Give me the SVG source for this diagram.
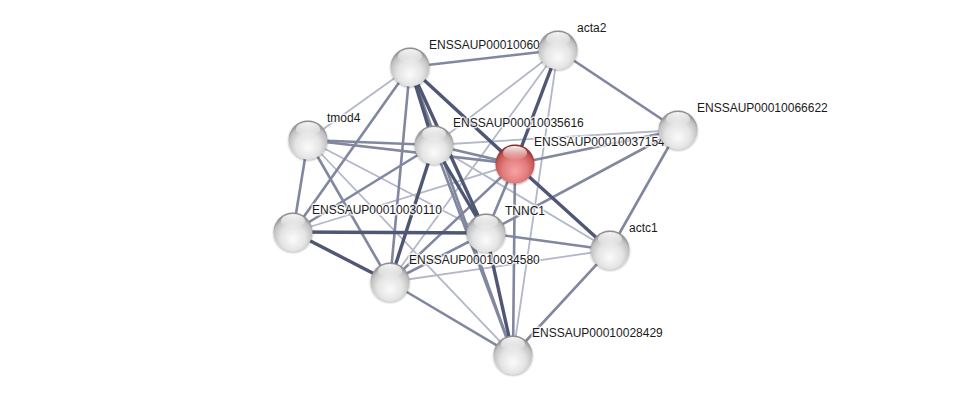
<svg xmlns="http://www.w3.org/2000/svg" width="976" height="400" viewBox="0 0 976 400">
<defs>
<radialGradient id="gw" cx="50%" cy="62%" r="58%" fx="50%" fy="70%">
<stop offset="0" stop-color="#fbfbfb"/>
<stop offset="0.55" stop-color="#e4e4e4"/>
<stop offset="0.85" stop-color="#c2c2c2"/>
<stop offset="1" stop-color="#8e8e8e"/>
</radialGradient>
<radialGradient id="gr" cx="50%" cy="62%" r="58%" fx="50%" fy="70%">
<stop offset="0" stop-color="#f7a4a4"/>
<stop offset="0.55" stop-color="#e37c7c"/>
<stop offset="0.85" stop-color="#c45555"/>
<stop offset="1" stop-color="#8e2c2c"/>
</radialGradient>
<linearGradient id="hl" x1="0" y1="0" x2="0" y2="1">
<stop offset="0" stop-color="#fff" stop-opacity="0.95"/>
<stop offset="1" stop-color="#fff" stop-opacity="0"/>
</linearGradient>
<filter id="sh" x="-30%" y="-30%" width="160%" height="160%">
<feGaussianBlur in="SourceAlpha" stdDeviation="1.2"/>
<feOffset dx="0" dy="1.2" result="b"/>
<feComponentTransfer><feFuncA type="linear" slope="0.35"/></feComponentTransfer>
<feMerge><feMergeNode/><feMergeNode in="SourceGraphic"/></feMerge>
</filter>
</defs>
<style>
.e{fill:none;stroke-linecap:butt}
.l{stroke:#b3b8c8;stroke-width:1.8}
.m{stroke:#80879f;stroke-width:2.6}
.d{stroke:#4f5774;stroke-width:3.4}
.n{fill:url(#gw);filter:url(#sh)}
.r{fill:url(#gr);filter:url(#sh)}
.h{fill:url(#hl)}
text{font-family:"Liberation Sans",Arial,sans-serif;font-size:12px;fill:#1a1a1a;paint-order:stroke;stroke:#fff;stroke-width:3px;stroke-opacity:0.75;stroke-linejoin:round}
</style>
<rect width="976" height="400" fill="#fff"/>
<g id="connectors">
<line class="e l" x1="410" y1="67" x2="308" y2="140"/>
<line class="e l" x1="558" y1="50" x2="434" y2="145"/>
<line class="e l" x1="558" y1="50" x2="390" y2="282"/>
<line class="e l" x1="558" y1="50" x2="513" y2="355"/>
<line class="e l" x1="308" y1="140" x2="513" y2="355"/>
<line class="e l" x1="434" y1="145" x2="678" y2="130"/>
<line class="e l" x1="515" y1="164" x2="293" y2="232"/>
<line class="e l" x1="610" y1="250" x2="390" y2="282"/>
<line class="e l" x1="434" y1="145" x2="610" y2="250"/>
<line class="e l" x1="308" y1="140" x2="486" y2="233"/>
<line class="e m" x1="410" y1="67" x2="558" y2="50"/>
<line class="e m" x1="410" y1="67" x2="293" y2="232"/>
<line class="e m" x1="410" y1="67" x2="390" y2="282"/>
<line class="e m" x1="410" y1="67" x2="513" y2="355"/>
<line class="e m" x1="558" y1="50" x2="678" y2="130"/>
<line class="e m" x1="308" y1="140" x2="434" y2="145"/>
<line class="e m" x1="308" y1="140" x2="515" y2="164"/>
<line class="e m" x1="308" y1="140" x2="293" y2="232"/>
<line class="e m" x1="308" y1="140" x2="390" y2="282"/>
<line class="e m" x1="434" y1="145" x2="515" y2="164"/>
<line class="e m" x1="434" y1="145" x2="293" y2="232"/>
<line class="e m" x1="434" y1="145" x2="513" y2="355"/>
<line class="e m" x1="515" y1="164" x2="678" y2="130"/>
<line class="e m" x1="515" y1="164" x2="486" y2="233"/>
<line class="e m" x1="515" y1="164" x2="390" y2="282"/>
<line class="e m" x1="515" y1="164" x2="513" y2="355"/>
<line class="e m" x1="678" y1="130" x2="610" y2="250"/>
<line class="e m" x1="678" y1="130" x2="486" y2="233"/>
<line class="e m" x1="486" y1="233" x2="610" y2="250"/>
<line class="e m" x1="486" y1="233" x2="390" y2="282"/>
<line class="e m" x1="610" y1="250" x2="513" y2="355"/>
<line class="e m" x1="390" y1="282" x2="513" y2="355"/>
<line class="e d" x1="410" y1="67" x2="434" y2="145"/>
<line class="e d" x1="410" y1="67" x2="515" y2="164"/>
<line class="e d" x1="410" y1="67" x2="486" y2="233"/>
<line class="e d" x1="558" y1="50" x2="515" y2="164"/>
<line class="e d" x1="434" y1="145" x2="390" y2="282"/>
<line class="e d" x1="434" y1="145" x2="486" y2="233"/>
<line class="e d" x1="515" y1="164" x2="610" y2="250"/>
<line class="e d" x1="293" y1="232" x2="486" y2="233"/>
<line class="e d" x1="293" y1="232" x2="390" y2="282"/>
<line class="e d" x1="486" y1="233" x2="513" y2="355"/>
</g>
<g id="node-ENSSAUP00010060">
<circle class="n" cx="410" cy="67" r="19.5"/>
<ellipse class="h" cx="410" cy="56" rx="12" ry="7"/>
<text x="429" y="49">ENSSAUP00010060</text>
</g>
<g id="node-acta2">
<circle class="n" cx="558" cy="50" r="19.5"/>
<ellipse class="h" cx="558" cy="39" rx="12" ry="7"/>
<text x="577" y="32">acta2</text>
</g>
<g id="node-tmod4">
<circle class="n" cx="308" cy="140" r="19.5"/>
<ellipse class="h" cx="308" cy="129" rx="12" ry="7"/>
<text x="327" y="122">tmod4</text>
</g>
<g id="node-ENSSAUP00010035616">
<circle class="n" cx="434" cy="145" r="19.5"/>
<ellipse class="h" cx="434" cy="134" rx="12" ry="7"/>
<text x="453" y="127">ENSSAUP00010035616</text>
</g>
<g id="node-ENSSAUP00010037154">
<circle class="r" cx="515" cy="164" r="19.5"/>
<ellipse class="h" cx="515" cy="153" rx="12" ry="7"/>
<text x="534" y="146">ENSSAUP00010037154</text>
</g>
<g id="node-ENSSAUP00010066622">
<circle class="n" cx="678" cy="130" r="19.5"/>
<ellipse class="h" cx="678" cy="119" rx="12" ry="7"/>
<text x="697" y="112">ENSSAUP00010066622</text>
</g>
<g id="node-ENSSAUP00010030110">
<circle class="n" cx="293" cy="232" r="19.5"/>
<ellipse class="h" cx="293" cy="221" rx="12" ry="7"/>
<text x="312" y="214">ENSSAUP00010030110</text>
</g>
<g id="node-TNNC1">
<circle class="n" cx="486" cy="233" r="19.5"/>
<ellipse class="h" cx="486" cy="222" rx="12" ry="7"/>
<text x="505" y="215">TNNC1</text>
</g>
<g id="node-actc1">
<circle class="n" cx="610" cy="250" r="19.5"/>
<ellipse class="h" cx="610" cy="239" rx="12" ry="7"/>
<text x="629" y="232">actc1</text>
</g>
<g id="node-ENSSAUP00010034580">
<circle class="n" cx="390" cy="282" r="19.5"/>
<ellipse class="h" cx="390" cy="271" rx="12" ry="7"/>
<text x="409" y="264">ENSSAUP00010034580</text>
</g>
<g id="node-ENSSAUP00010028429">
<circle class="n" cx="513" cy="355" r="19.5"/>
<ellipse class="h" cx="513" cy="344" rx="12" ry="7"/>
<text x="532" y="337">ENSSAUP00010028429</text>
</g>
</svg>
